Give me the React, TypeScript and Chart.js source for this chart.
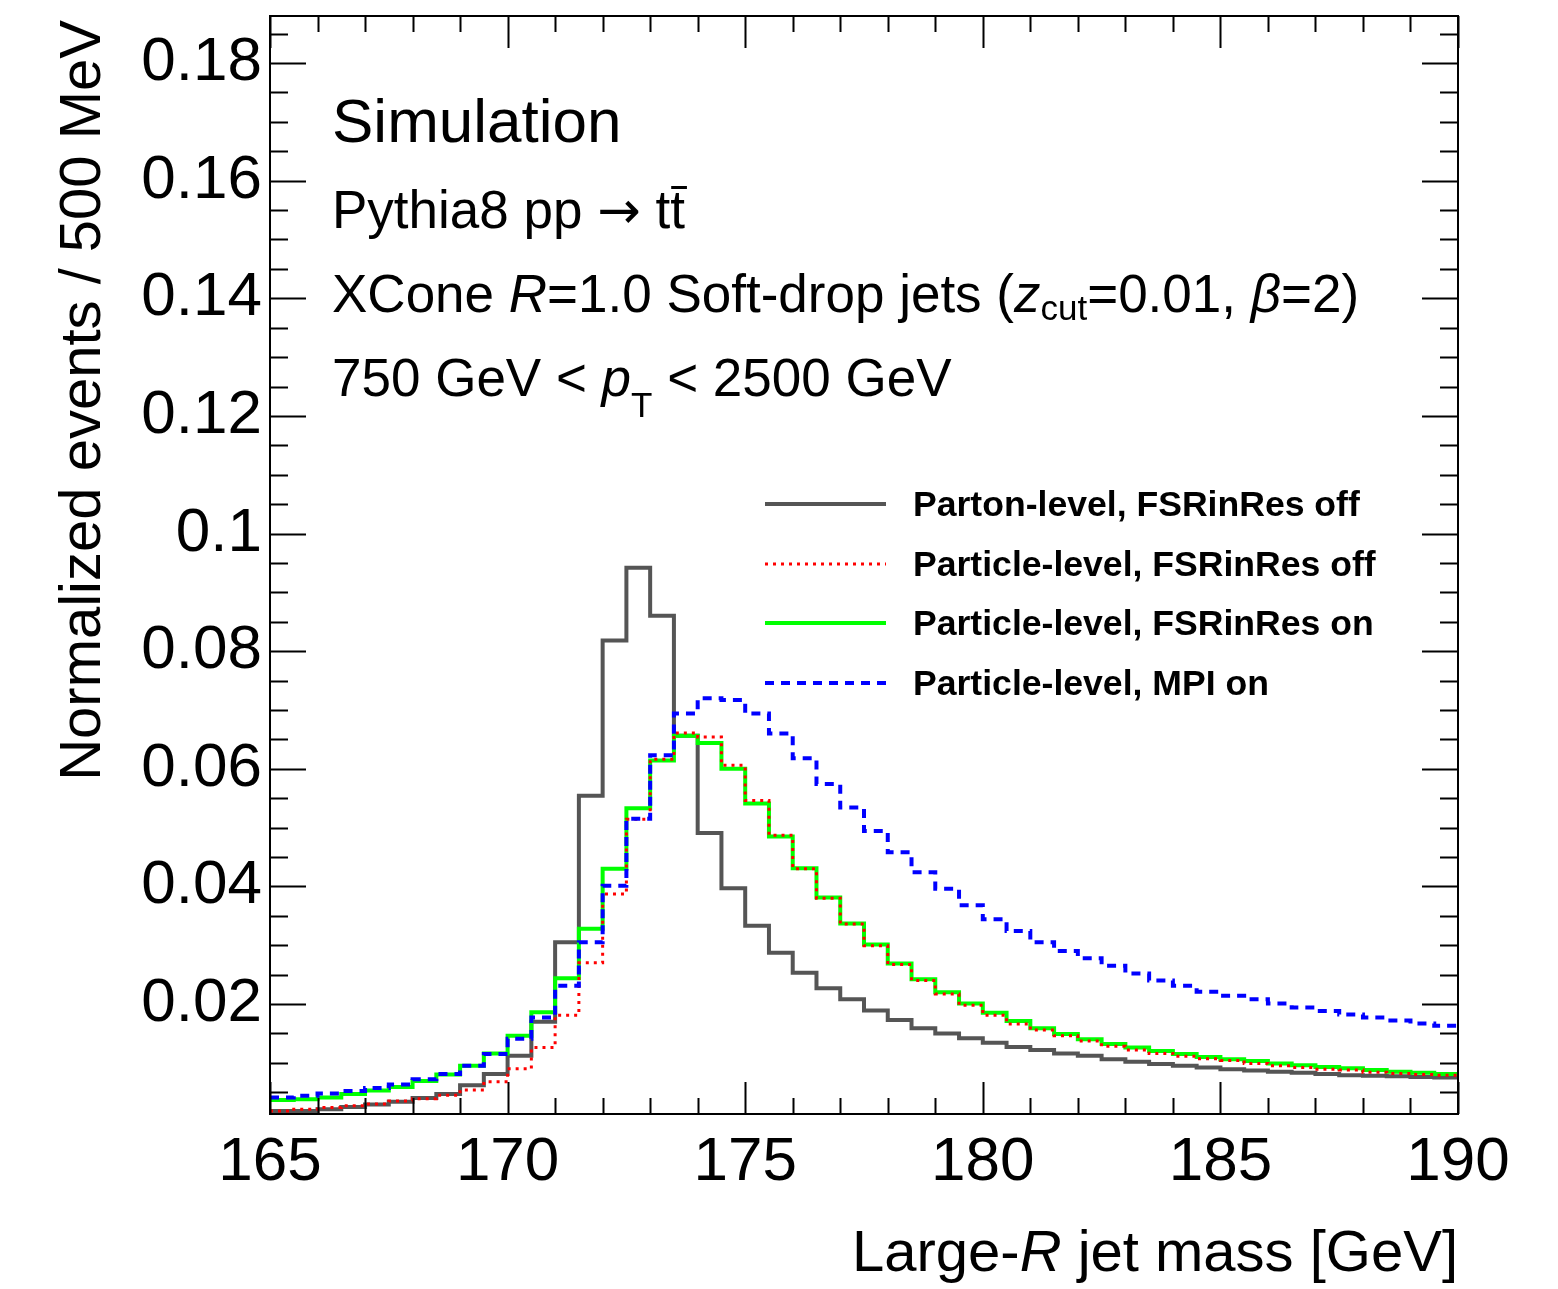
import React, { useEffect, useRef } from "react";
import { Chart, registerables } from "chart.js";

Chart.register(...registerables);

// Bin edges of the 500 MeV histogram (GeV)
const binEdges = [
  165, 165.5, 166, 166.5, 167, 167.5, 168, 168.5, 169, 169.5,
  170, 170.5, 171, 171.5, 172, 172.5, 173, 173.5, 174, 174.5,
  175, 175.5, 176, 176.5, 177, 177.5, 178, 178.5, 179, 179.5,
  180, 180.5, 181, 181.5, 182, 182.5, 183, 183.5, 184, 184.5,
  185, 185.5, 186, 186.5, 187, 187.5, 188, 188.5, 189, 189.5, 190,
];

// Parton-level, FSRinRes off
const partonFSROff = [
  0.0018, 0.0018, 0.0021, 0.0025, 0.0029, 0.0034, 0.0040, 0.0047, 0.0062, 0.0081,
  0.0112, 0.0170, 0.0305, 0.0554, 0.0818, 0.0942, 0.0860, 0.0656, 0.0491, 0.0397,
  0.0333, 0.0287, 0.0253, 0.0227, 0.0208, 0.0189, 0.0173, 0.0159, 0.0150, 0.0142,
  0.0134, 0.0127, 0.0122, 0.0116, 0.0112, 0.0106, 0.0102, 0.0098, 0.0095, 0.0092,
  0.0089, 0.0087, 0.0085, 0.0083, 0.0081, 0.0079, 0.0078, 0.0077, 0.0076, 0.0075,
];

// Particle-level, FSRinRes off
const particleFSROff = [
  0.0018, 0.0021, 0.0024, 0.0027, 0.0030, 0.0035, 0.0039, 0.0045, 0.0054, 0.0068,
  0.0090, 0.0126, 0.0181, 0.0270, 0.0387, 0.0514, 0.0616, 0.0661, 0.0654, 0.0606,
  0.0546, 0.0487, 0.0430, 0.0380, 0.0336, 0.0299, 0.0267, 0.0240, 0.0217, 0.0198,
  0.0181, 0.0166, 0.0156, 0.0146, 0.0137, 0.0128, 0.0122, 0.0116, 0.0111, 0.0107,
  0.0104, 0.0099, 0.0095, 0.0092, 0.0089, 0.0088, 0.0084, 0.0082, 0.0080, 0.0079,
];

// Particle-level, FSRinRes on
const particleFSROn = [
  0.0037, 0.0038, 0.0041, 0.0047, 0.0053, 0.0059, 0.0069, 0.0080, 0.0095, 0.0116,
  0.0146, 0.0186, 0.0244, 0.0328, 0.0430, 0.0533, 0.0614, 0.0656, 0.0644, 0.0600,
  0.0541, 0.0485, 0.0431, 0.0381, 0.0337, 0.0301, 0.0269, 0.0242, 0.0220, 0.0201,
  0.0185, 0.0171, 0.0159, 0.0149, 0.0140, 0.0132, 0.0126, 0.0120, 0.0115, 0.0110,
  0.0106, 0.0103, 0.0099, 0.0096, 0.0093, 0.0091, 0.0088, 0.0085, 0.0083, 0.0081,
];

// Particle-level, MPI on
const particleMPIOn = [
  0.0041, 0.0044, 0.0048, 0.0052, 0.0057, 0.0063, 0.0072, 0.0081, 0.0095, 0.0115,
  0.0141, 0.0177, 0.0231, 0.0305, 0.0401, 0.0515, 0.0623, 0.0694, 0.0720, 0.0717,
  0.0694, 0.0660, 0.0618, 0.0574, 0.0534, 0.0494, 0.0458, 0.0424, 0.0396, 0.0368,
  0.0344, 0.0324, 0.0305, 0.0290, 0.0278, 0.0265, 0.0252, 0.0240, 0.0231, 0.0221,
  0.0214, 0.0208, 0.0201, 0.0194, 0.0188, 0.0182, 0.0177, 0.0172, 0.0167, 0.0163,
];

const seriesLabels = [
  "Parton-level, FSRinRes off",
  "Particle-level, FSRinRes off",
  "Particle-level, FSRinRes on",
  "Particle-level, MPI on",
];

const xTickValues = [165, 170, 175, 180, 185, 190];
const yTickValues = [0.02, 0.04, 0.06, 0.08, 0.1, 0.12, 0.14, 0.16, 0.18];
const xMinorStep = 1;
const yMinorStep = 0.005;

const FONT = '"Liberation Sans", Arial, Helvetica, sans-serif';

function toSteps(values: number[]) {
  return binEdges.map((x, i) => ({ x, y: values[Math.min(i, values.length - 1)] }));
}

export default function App() {
  const canvasRef = useRef<HTMLCanvasElement | null>(null);

  useEffect(() => {
    const canvas = canvasRef.current;
    if (!canvas) return;

    const decorPlugin = {
      id: "rootStyle",
      afterDatasetsDraw(chart: any) {
        const ctx = chart.ctx as CanvasRenderingContext2D;
        const area = chart.chartArea;
        const xs = chart.scales.x;
        const ys = chart.scales.y;
        ctx.save();
        // frame
        ctx.strokeStyle = "#000";
        ctx.lineWidth = 2;
        ctx.setLineDash([]);
        ctx.strokeRect(area.left, area.top, area.right - area.left, area.bottom - area.top);

        // x ticks (inside, bottom & top)
        ctx.lineWidth = 2;
        for (let v = xs.min; v <= xs.max + 1e-9; v += xMinorStep) {
          const px = Math.round(xs.getPixelForValue(v)) + 0.5;
          const major = xTickValues.some((t) => Math.abs(t - v) < 1e-6);
          const len = major ? 32 : 16;
          ctx.beginPath();
          ctx.moveTo(px, area.bottom);
          ctx.lineTo(px, area.bottom - len);
          ctx.moveTo(px, area.top);
          ctx.lineTo(px, area.top + len);
          ctx.stroke();
        }
        // y ticks (inside, left & right)
        for (let k = 1; k * yMinorStep <= ys.max; k++) {
          const v = k * yMinorStep;
          if (v < ys.min) continue;
          const py = Math.round(ys.getPixelForValue(v)) + 0.5;
          const major = yTickValues.some((t) => Math.abs(t - v) < 1e-6);
          const len = major ? 36 : 18;
          ctx.beginPath();
          ctx.moveTo(area.left, py);
          ctx.lineTo(area.left + len, py);
          ctx.moveTo(area.right, py);
          ctx.lineTo(area.right - len, py);
          ctx.stroke();
        }

        ctx.fillStyle = "#000";
        ctx.textBaseline = "alphabetic";
        ctx.textAlign = "left";

        // draw a run of text pieces
        const drawRun = (x: number, y: number, pieces: { t: string; f: string; dy?: number }[]) => {
          let cx = x;
          for (const p of pieces) {
            ctx.font = p.f;
            ctx.fillText(p.t, cx, y + (p.dy || 0));
            cx += ctx.measureText(p.t).width;
          }
          return cx;
        };
        const measureRun = (pieces: { t: string; f: string }[]) => {
          let w = 0;
          for (const p of pieces) {
            ctx.font = p.f;
            w += ctx.measureText(p.t).width;
          }
          return w;
        };

        const big = `62px ${FONT}`;
        const norm = `53px ${FONT}`;
        const ital = `italic 53px ${FONT}`;
        const sub = `35px ${FONT}`;

        drawRun(332, 142, [{ t: "Simulation", f: big }]);

        // Pythia8 pp -> t tbar
        const endArrow = drawRun(332, 228, [
          { t: "Pythia8 pp ", f: norm },
          { t: "\u2192", f: `52px "DejaVu Sans", ${FONT}` },
          { t: " t", f: norm },
        ]);
        ctx.font = norm;
        const tW = ctx.measureText("t").width;
        ctx.fillText("t", endArrow, 228);
        ctx.fillRect(endArrow + 1, 186, tW + 1, 3);

        drawRun(332, 312, [
          { t: "XCone ", f: norm },
          { t: "R", f: ital },
          { t: "=1.0 Soft-drop jets (", f: norm },
          { t: "z", f: ital },
          { t: "cut", f: sub, dy: 8 },
          { t: "=0.01, ", f: norm },
          { t: "\u03B2", f: ital },
          { t: "=2)", f: norm },
        ]);

        drawRun(332, 396, [
          { t: "750 GeV < ", f: norm },
          { t: "p", f: ital },
          { t: "T", f: sub, dy: 21 },
          { t: " < 2500 GeV", f: norm },
        ]);

        // x axis title (right aligned)
        const xt = [
          { t: "Large-", f: `58px ${FONT}` },
          { t: "R", f: `italic 58px ${FONT}` },
          { t: " jet mass [GeV]", f: `58px ${FONT}` },
        ];
        const xw = measureRun(xt);
        drawRun(area.right - xw, 1271, xt);

        // y axis title (rotated, aligned to top)
        ctx.save();
        ctx.translate(100, 20);
        ctx.rotate(-Math.PI / 2);
        ctx.font = `58px ${FONT}`;
        ctx.textAlign = "right";
        ctx.fillText("Normalized events / 500 MeV", 0, 0);
        ctx.restore();

        // legend
        const legendRows = [504, 564, 623, 683];
        chart.data.datasets.forEach((ds: any, i: number) => {
          const y = legendRows[i];
          ctx.save();
          ctx.strokeStyle = ds.borderColor;
          ctx.lineWidth = ds.borderWidth;
          ctx.setLineDash(ds.borderDash || []);
          ctx.beginPath();
          ctx.moveTo(765, y);
          ctx.lineTo(886, y);
          ctx.stroke();
          ctx.restore();
          ctx.font = `bold 35.6px ${FONT}`;
          ctx.textBaseline = "middle";
          ctx.textAlign = "left";
          ctx.fillStyle = "#000";
          ctx.fillText(ds.label, 913, y + 2);
        });
        ctx.restore();
      },
    };

    const chart = new Chart(canvas, {
      type: "line",
      data: {
        datasets: [
          {
            label: seriesLabels[0],
            data: toSteps(partonFSROff),
            borderColor: "#555555",
            borderWidth: 4,
            borderDash: [],
            order: 3,
          },
          {
            label: seriesLabels[1],
            data: toSteps(particleFSROff),
            borderColor: "#ff0000",
            borderWidth: 3,
            borderDash: [3, 5],
            order: 1,
          },
          {
            label: seriesLabels[2],
            data: toSteps(particleFSROn),
            borderColor: "#00ff00",
            borderWidth: 4,
            borderDash: [],
            order: 2,
          },
          {
            label: seriesLabels[3],
            data: toSteps(particleMPIOn),
            borderColor: "#0000ff",
            borderWidth: 4,
            borderDash: [9, 7],
            order: 0,
          },
        ].map((d) => ({
          ...d,
          stepped: "before" as const,
          pointRadius: 0,
          pointHoverRadius: 0,
          fill: false,
          tension: 0,
          borderCapStyle: "butt" as const,
          borderJoinStyle: "miter" as const,
        })),
      },
      options: {
        responsive: false,
        animation: false,
        events: [],
        layout: { padding: { left: 8, top: 16, right: 100, bottom: 0 } },
        plugins: {
          legend: { display: false },
          tooltip: { enabled: false },
          title: { display: false },
        },
        scales: {
          x: {
            type: "linear",
            min: 165,
            max: 190,
            grid: { display: false, drawTicks: false, tickLength: 0 },
            border: { display: false },
            afterBuildTicks: (scale: any) => {
              scale.ticks = xTickValues.map((v) => ({ value: v }));
            },
            afterFit: (scale: any) => {
              scale.height = 175;
              scale.paddingLeft = 0;
              scale.paddingRight = 0;
            },
            ticks: {
              autoSkip: false,
              maxRotation: 0,
              minRotation: 0,
              padding: 12,
              color: "#000",
              font: { family: FONT, size: 62 },
              callback: (v: any) => String(v),
            },
          },
          y: {
            type: "linear",
            min: 0.0013,
            max: 0.188,
            grid: { display: false, drawTicks: false, tickLength: 0 },
            border: { display: false },
            afterBuildTicks: (scale: any) => {
              scale.ticks = yTickValues.map((v) => ({ value: v }));
            },
            afterFit: (scale: any) => {
              scale.width = 262;
              scale.paddingTop = 0;
              scale.paddingBottom = 0;
            },
            ticks: {
              autoSkip: false,
              padding: 8,
              color: "#000",
              font: { family: FONT, size: 62 },
              callback: (v: any) => String(Number(Number(v).toFixed(3))),
            },
          },
        },
      },
      plugins: [decorPlugin],
    });

    return () => {
      chart.destroy();
    };
  }, []);

  return (
    <div style={{ position: "absolute", left: 0, top: 0, width: 1558, height: 1289, background: "#fff" }}>
      <canvas ref={canvasRef} width={1558} height={1289} style={{ width: 1558, height: 1289, display: "block" }} />
    </div>
  );
}
